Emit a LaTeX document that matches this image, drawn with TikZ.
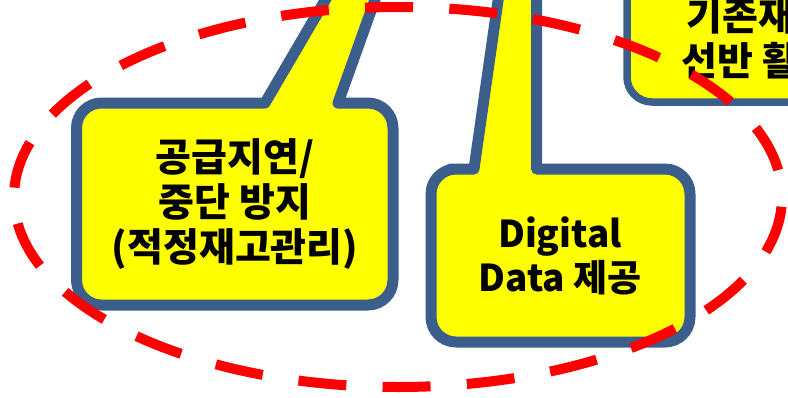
\documentclass[tikz,border=0pt]{standalone}
\usepackage{fontspec}
\newfontfamily\kr{Noto Sans CJK KR}
\definecolor{boxblue}{RGB}{59,94,140}
\definecolor{boxyellow}{RGB}{255,255,0}
\definecolor{dashred}{RGB}{255,0,0}
\tikzset{
  callout/.style={draw=boxblue, fill=boxyellow, line width=11pt, line join=round},
  thinbox/.style={draw=boxblue, fill=boxyellow, line width=7.5pt, rounded corners=25pt},
  label/.style={font=\kr\bfseries\fontsize{39}{45}\selectfont, align=center, text=black, inner sep=0pt},
  labelmix/.style={font=\kr\bfseries\fontsize{37}{44}\selectfont, align=center, text=black, inner sep=0pt},
  zone/.style={draw=dashred, line width=10pt, dash pattern=on 48pt off 36.3pt, dash phase=57pt}
}
\begin{document}
\begin{tikzpicture}[x=1pt,y=1pt]
\useasboundingbox (0,0) rectangle (788,-397);
\clip (0,0) rectangle (788,-397);
% top-right box (partly outside)
\draw[thinbox] (627,40) rectangle (889,-102);
\node[label] (reuse) at (758,-38.5) {기존재고\\선반 활용};
% left callout
\draw[callout] (200,-103) -- (265,-103) -- (337,20) -- (382,20) -- (338,-103)
  -- (368,-103) arc[start angle=90,end angle=0,radius=25]
  -- (393,-280) arc[start angle=0,end angle=-90,radius=25]
  -- (101.5,-305) arc[start angle=270,end angle=180,radius=25]
  -- (76.5,-128) arc[start angle=180,end angle=90,radius=25] -- cycle;
\node[label] (supply) at (235,-204) {공급지연/\\중단 방지\\(적정재고관리)};
% middle callout
\draw[callout] (450,-169) -- (474,-169) -- (501,20) -- (536.5,20) -- (536.5,-169)
  -- (665,-169) arc[start angle=90,end angle=0,radius=25]
  -- (690,-317) arc[start angle=0,end angle=-90,radius=25]
  -- (456,-342) arc[start angle=270,end angle=180,radius=25]
  -- (431,-194) arc[start angle=180,end angle=90,radius=25] -- cycle;
\node[labelmix] (data) at (560,-256) {Digital\\Data 제공};
% dashed red ellipse
\draw[zone] (398,-197) ellipse [x radius=384, y radius=190];
\end{tikzpicture}
\end{document}
